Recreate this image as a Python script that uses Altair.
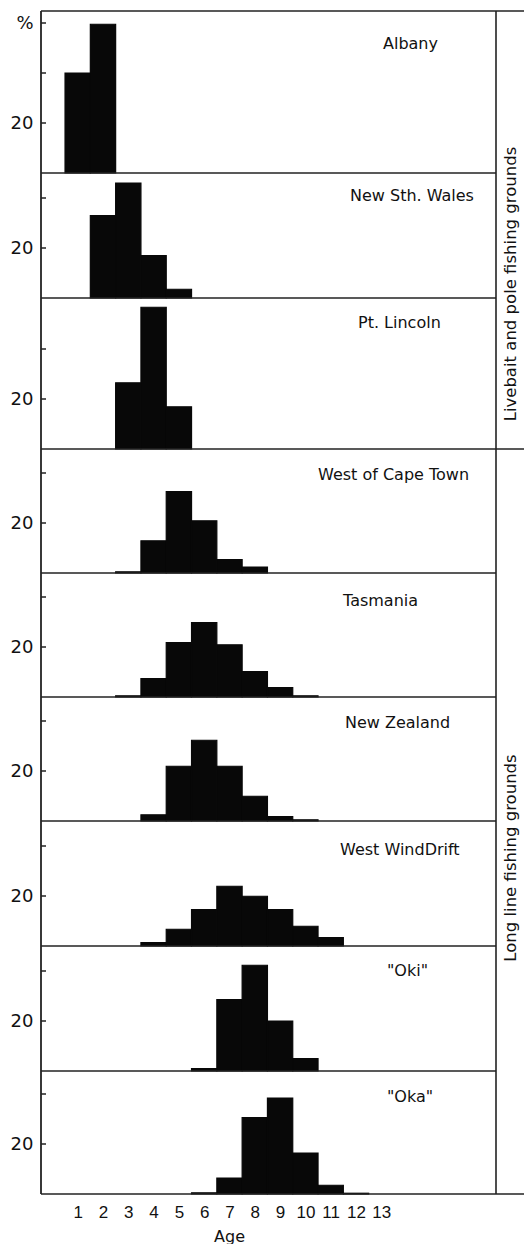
import altair as alt
import pandas as pd

# Age classes on the horizontal axis
AGES = list(range(1, 14))

# Fishing grounds, top to bottom
SITES = ["Albany", "New Sth. Wales", "Pt. Lincoln", "West of Cape Town", "Tasmania",
         "New Zealand", "West WindDrift", '"Oki"', '"Oka"']

# Percentage of the catch in each age class (ages 1..13)
albany    = [40, 59.5, 0, 0, 0, 0, 0, 0, 0, 0, 0, 0, 0]
nsw       = [0, 33, 46, 17, 3.5, 0, 0, 0, 0, 0, 0, 0, 0]
lincoln   = [0, 0, 26.5, 56.7, 16.9, 0, 0, 0, 0, 0, 0, 0, 0]
capetown  = [0, 0, 0.5, 12.9, 32.6, 20.9, 5.4, 2.4, 0, 0, 0, 0, 0]
tasmania  = [0, 0, 0.5, 7.4, 21.8, 29.8, 20.9, 10.2, 3.8, 0.5, 0, 0, 0]
newzeal   = [0, 0, 0, 2.5, 21.9, 32.3, 21.9, 9.9, 1.8, 0.5, 0, 0, 0]
winddrift = [0, 0, 0, 1.4, 6.7, 14.6, 23.9, 19.9, 14.6, 7.9, 3.4, 0, 0]
oki       = [0, 0, 0, 0, 0, 1.0, 28.6, 42.3, 20.0, 5.0, 0, 0, 0]
oka       = [0, 0, 0, 0, 0, 0.5, 6.4, 30.6, 38.4, 16.4, 3.5, 0.3, 0]

SERIES = [albany, nsw, lincoln, capetown, tasmania, newzeal, winddrift, oki, oka]

# Panel layout (pixels)
HEIGHTS = [162, 125, 151, 124, 124, 124, 125, 125, 123]
TITLE_X = [342, 309, 317, 277, 302, 304, 299, 346, 346]
TITLE_Y = [33, 23, 25, 26, 28, 26, 29, 25, 26]
PX_PER_PCT = 2.5
FULL_W = 484        # left axis to right page edge
BORDER_X = 455      # vertical rule separating the group labels
X_MIN, X_MAX = -0.45, 18.68

INK = "#080808"
LINE = "#222222"
FONT = "DejaVu Sans"


def hline(y, x0, x1):
    return alt.Chart(pd.DataFrame({"k": [0]})).mark_rule(
        color=LINE, strokeWidth=1.6
    ).encode(x=alt.value(x0), x2=alt.value(x1), y=alt.value(y), y2=alt.value(y))


def vline(x, y0, y1, width=1.6):
    return alt.Chart(pd.DataFrame({"k": [0]})).mark_rule(
        color=LINE, strokeWidth=width
    ).encode(x=alt.value(x), x2=alt.value(x), y=alt.value(y0), y2=alt.value(y1))


def vertical_label(text, y):
    return alt.Chart(pd.DataFrame({"t": [text]})).mark_text(
        angle=270, align="center", baseline="middle", font=FONT, fontSize=16.5, color="#111"
    ).encode(x=alt.value(470), y=alt.value(y), text="t:N")


def panel(i):
    h = HEIGHTS[i]
    last = i == len(SITES) - 1
    first = i == 0
    df = pd.DataFrame({"age": AGES, "pct": SERIES[i]})
    df = df[df["pct"] > 0]

    xs = alt.Scale(domain=[X_MIN, X_MAX], nice=False, zero=False)
    ys = alt.Scale(domain=[0, h / PX_PER_PCT], nice=False, zero=True)

    tick_vals = [20, 40, 60] if first else [20, 40]
    label_expr = ("datum.value == 20 ? '20' : datum.value == 60 ? '%' : ''"
                  if first else "datum.value == 20 ? '20' : ''")
    yaxis = alt.Axis(values=tick_vals, labelExpr=label_expr, ticks=False, domain=False,
                     grid=False, labelFont=FONT, labelFontSize=18, labelColor="#111",
                     labelPadding=8, title=None)

    if last:
        xaxis = alt.Axis(values=AGES, format="d", ticks=False, domain=False, grid=False,
                         labelFont="Liberation Sans", labelFontSize=17, labelColor="#111",
                         labelPadding=10, labelFlush=False, title="Age",
                         titleFont=FONT, titleFontSize=16, titleFontWeight="normal",
                         titleColor="#111", titleX=188, titleY=42,
                         titleBaseline="middle")
    else:
        xaxis = None

    bars = alt.Chart(df).transform_calculate(
        lo="datum.age - 0.5", hi="datum.age + 0.5"
    ).mark_rect(color=INK, stroke=INK, strokeWidth=1.2).encode(
        x=alt.X("lo:Q", scale=xs, axis=xaxis, title="Age" if last else None),
        x2="hi:Q",
        y=alt.Y("pct:Q", scale=ys, axis=yaxis, title=None),
        y2=alt.datum(0),
    )

    ticks = alt.Chart(pd.DataFrame({"v": tick_vals})).mark_rule(
        color=LINE, strokeWidth=1.5
    ).encode(
        y=alt.Y("v:Q", scale=ys, axis=yaxis, title=None),
        x=alt.value(0), x2=alt.value(5),
    )

    title = alt.Chart(pd.DataFrame({"t": [SITES[i]]})).mark_text(
        align="left", baseline="middle", font=FONT, fontSize=16, color="#111"
    ).encode(x=alt.value(TITLE_X[i]), y=alt.value(TITLE_Y[i]), text="t:N")

    bottom_w = FULL_W - 1 if i in (2, len(SITES) - 1) else BORDER_X
    layers = [bars, ticks, title,
              vline(0, 0, h, 1.8), vline(BORDER_X, 0, h),
              hline(h, 0, bottom_w)]

    if first:
        layers.append(hline(0, 0, FULL_W - 1))
        # keeps the page origin 41 px left of and 11 px above the first panel
        layers.append(alt.Chart(pd.DataFrame({"k": [0]})).mark_rule(strokeOpacity=0).encode(
            x=alt.value(-41), x2=alt.value(-41), y=alt.value(-11), y2=alt.value(-10)))
        layers.append(vertical_label("Livebait and pole fishing grounds", 273))
    if i == 3:
        layers.append(vertical_label("Long line fishing grounds", 409))

    return alt.layer(*layers).properties(width=FULL_W, height=h)


chart = alt.vconcat(*[panel(i) for i in range(len(SITES))], spacing=0, bounds="flush").properties(
    padding={"left": 0, "top": 0, "right": 0, "bottom": 0}
).configure_view(stroke=None)

chart.save("out.html", embed_options={"renderer": "svg", "actions": False})
